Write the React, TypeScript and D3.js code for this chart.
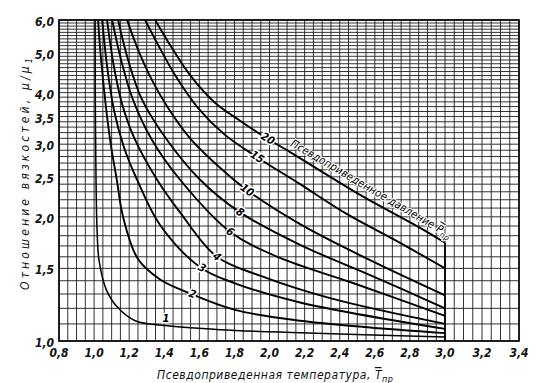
import React from 'react';
import * as d3 from 'd3';

// ---- data ----
const pressureLabels = ['1', '2', '3', '4', '6', '8', '10', '15', '20'];

const tempP1 = [1.006, 1.007, 1.011, 1.017, 1.028, 1.07, 1.131, 1.234, 1.405, 1.718, 2.174, 3.0];
const ratioP1 = [6.0, 3.84, 2.46, 1.86, 1.57, 1.33, 1.21, 1.12, 1.09, 1.065, 1.047, 1.022];

const tempP2 = [1.023, 1.04, 1.09, 1.13, 1.165, 1.25, 1.376, 1.536, 1.803, 2.174, 3.0];
const ratioP2 = [6.0, 4.8, 3.1, 2.45, 2.0, 1.58, 1.41, 1.31, 1.19, 1.12, 1.045];

const tempP3 = [1.046, 1.075, 1.115, 1.17, 1.245, 1.376, 1.604, 1.803, 2.174, 3.0];
const ratioP3 = [6.0, 4.6, 3.6, 2.95, 2.46, 1.91, 1.51, 1.38, 1.24, 1.07];

const tempP4 = [1.074, 1.11, 1.16, 1.23, 1.359, 1.49, 1.70, 1.946, 2.345, 3.0];
const ratioP4 = [6.0, 4.7, 3.75, 3.1, 2.46, 2.05, 1.60, 1.44, 1.27, 1.10];

const tempP6 = [1.103, 1.154, 1.222, 1.33, 1.49, 1.775, 2.06, 2.459, 3.0];
const ratioP6 = [6.0, 4.8, 3.84, 3.07, 2.46, 1.84, 1.59, 1.39, 1.15];

const tempP8 = [1.137, 1.194, 1.274, 1.416, 1.604, 1.832, 2.174, 2.573, 3.0];
const ratioP8 = [6.0, 4.8, 3.84, 3.07, 2.46, 2.05, 1.71, 1.445, 1.2];

const tempP10 = [1.188, 1.251, 1.33, 1.422, 1.547, 1.718, 1.872, 2.174, 2.573, 3.0];
const ratioP10 = [6.0, 5.08, 4.29, 3.67, 3.1, 2.63, 2.32, 1.92, 1.57, 1.29];

const tempP15 = [1.291, 1.365, 1.462, 1.593, 1.746, 1.929, 2.174, 2.442, 2.744, 3.0];
const ratioP15 = [6.0, 5.22, 4.41, 3.67, 3.16, 2.79, 2.4, 2.03, 1.73, 1.5];

const tempP20 = [1.348, 1.433, 1.547, 1.689, 1.832, 1.963, 2.117, 2.516, 2.858, 3.0];
const ratioP20 = [6.0, 5.22, 4.41, 3.78, 3.42, 3.14, 2.87, 2.26, 1.88, 1.73];

const labelTemps = [1.41, 1.56, 1.615, 1.7, 1.775, 1.832, 1.872, 1.929, 1.99];

const xTickValues = [0.8, 1.0, 1.2, 1.4, 1.6, 1.8, 2.0, 2.2, 2.4, 2.6, 2.8, 3.0, 3.2, 3.4];
const yTickValues = [1.0, 1.5, 2.0, 2.5, 3.0, 3.5, 4.0, 5.0, 6.0];

const xTitle = 'Псевдоприведенная температура, ';
const yTitle = 'Отношение вязкостей, μ/μ';
const annotation = 'Псевдоприведенное давление ';

// ---- layout ----
const W = 549;
const H = 383;
const LEFT = 59;
const RIGHT = 519;
const TOP = 20;
const BOTTOM = 341;
const FONT = '"DejaVu Sans Condensed", "DejaVu Sans", sans-serif';

const x = d3.scaleLinear().domain([0.8, 3.0, 3.4]).range([LEFT, 445, RIGHT]);
const y = d3.scaleLog().domain([1, 6]).range([BOTTOM, TOP]);

const temps = [tempP1, tempP2, tempP3, tempP4, tempP6, tempP8, tempP10, tempP15, tempP20];
const ratios = [ratioP1, ratioP2, ratioP3, ratioP4, ratioP6, ratioP8, ratioP10, ratioP15, ratioP20];

function valueAt(ts: number[], vs: number[], t: number): number {
  for (let i = 0; i < ts.length - 1; i++) {
    if (t >= ts[i] && t <= ts[i + 1] && ts[i + 1] > ts[i]) {
      const f = (t - ts[i]) / (ts[i + 1] - ts[i]);
      return Math.pow(10, Math.log10(vs[i]) + f * (Math.log10(vs[i + 1]) - Math.log10(vs[i])));
    }
  }
  return vs[vs.length - 1];
}

const fmt = (v: number) => v.toFixed(1).replace('.', ',');

export default function App() {
  const line = d3
    .line<[number, number]>()
    .x((d) => x(d[0]))
    .y((d) => y(d[1]))
    .curve(d3.curveCatmullRom.alpha(0.5));

  const xGrid = d3.range(0, 53).map((i) => +(0.8 + i * 0.05).toFixed(2));
  const yGrid = d3.range(10, 61).map((i) => i / 10);

  const series = pressureLabels.map((p, i) => ({
    p,
    ts: temps[i],
    vs: ratios[i],
    d: line(temps[i].map((t, j) => [t, ratios[i][j]] as [number, number])) || '',
  }));

  // annotation along the top curve
  const aT0 = 2.1;
  const aT1 = 3.0;
  const ax0 = x(aT0);
  const ay0 = y(valueAt(tempP20, ratioP20, aT0));
  const ax1 = x(aT1);
  const ay1 = y(valueAt(tempP20, ratioP20, aT1));
  const ang = (Math.atan2(ay1 - ay0, ax1 - ax0) * 180) / Math.PI;
  const off = 5.5;
  const nx = Math.sin((ang * Math.PI) / 180) * off;
  const ny = -Math.cos((ang * Math.PI) / 180) * off;

  return (
    <svg
      width={W}
      height={H}
      style={{ position: 'absolute', left: 0, top: 0, background: '#fff' }}
      fontFamily={FONT}
    >
      <defs>
        <clipPath id="plot">
          <rect x={LEFT} y={TOP} width={RIGHT - LEFT} height={BOTTOM - TOP} />
        </clipPath>
      </defs>
      <rect x={0} y={0} width={W} height={H} fill="#fff" />

      {/* grid */}
      <g stroke="#1c1c1c" strokeWidth={0.9}>
        {xGrid.map((v) => (
          <line key={'gx' + v} x1={x(v)} x2={x(v)} y1={TOP} y2={BOTTOM} />
        ))}
        {yGrid.map((v) => (
          <line key={'gy' + v} x1={LEFT} x2={RIGHT} y1={y(v)} y2={y(v)} />
        ))}
      </g>
      <rect x={LEFT} y={TOP} width={RIGHT - LEFT} height={BOTTOM - TOP} fill="none" stroke="#000" strokeWidth={1.6} />

      {/* end line at T=3.0 */}
      <line
        x1={x(3.0)}
        x2={x(3.0)}
        y1={y(ratioP20[ratioP20.length - 1])}
        y2={BOTTOM}
        stroke="#000"
        strokeWidth={1.8}
      />

      {/* curves */}
      <g clipPath="url(#plot)" fill="none" stroke="#000" strokeLinejoin="round">
        {series.map((s) => (
          <path key={'c' + s.p} d={s.d} strokeWidth={s.p === '1' ? 1.5 : 1.9} />
        ))}
      </g>

      {/* curve labels */}
      {series.map((s, i) => {
        const t = labelTemps[i];
        const px = x(t);
        const py = y(valueAt(s.ts, s.vs, t));
        const pa = x(t - 0.02);
        const pb = x(t + 0.02);
        const ya = y(valueAt(s.ts, s.vs, t - 0.02));
        const yb = y(valueAt(s.ts, s.vs, t + 0.02));
        const a = s.p === '1' ? 0 : (Math.atan2(yb - ya, pb - pa) * 180) / Math.PI;
        const dy = s.p === '1' ? -7 : 0;
        return (
          <text
            key={'l' + s.p}
            transform={`translate(${px},${py + dy}) rotate(${a})`}
            textAnchor="middle"
            dominantBaseline="central"
            fontSize={11}
            fontStyle="italic"
            fontWeight="bold"
            fill="#000"
            stroke="#fff"
            strokeWidth={3}
            paintOrder="stroke"
          >
            {s.p}
          </text>
        );
      })}

      {/* annotation */}
      <text
        transform={`translate(${ax0 + nx},${ay0 + ny}) rotate(${ang})`}
        fontSize={11}
        fontStyle="italic"
        fill="#000"
        stroke="#fff"
        strokeWidth={2}
        paintOrder="stroke"
        textLength={184}
        lengthAdjust="spacing"
      >
        {annotation}
        <tspan style={{ textDecoration: 'overline' }}>P</tspan>
        <tspan fontSize={8} dy={3}>пр</tspan>
      </text>

      {/* y tick labels */}
      {yTickValues.map((v) => (
        <text
          key={'yt' + v}
          x={54}
          y={y(v) + 2}
          textAnchor="end"
          dominantBaseline="central"
          fontSize={12}
          fontStyle="italic"
          fontWeight="bold"
          fill="#111"
        >
          {fmt(v)}
        </text>
      ))}

      {/* x tick labels */}
      {xTickValues.map((v) => (
        <text
          key={'xt' + v}
          x={x(v)}
          y={357}
          textAnchor="middle"
          fontSize={12}
          fontStyle="italic"
          fontWeight="bold"
          fill="#111"
        >
          {fmt(v)}
        </text>
      ))}

      {/* axis titles */}
      <text x={157} y={379} fontSize={12} fontStyle="italic" fill="#111" textLength={236} lengthAdjust="spacing">
        {xTitle}
        <tspan style={{ textDecoration: 'overline' }}>T</tspan>
        <tspan fontSize={9} dy={3}>пр</tspan>
      </text>
      <text
        transform="translate(29,174) rotate(-90)"
        textAnchor="middle"
        fontSize={12}
        fontStyle="italic"
        fill="#111"
        textLength={232}
        lengthAdjust="spacing"
      >
        {yTitle}
        <tspan fontSize={9} dy={3}>1</tspan>
      </text>
    </svg>
  );
}
